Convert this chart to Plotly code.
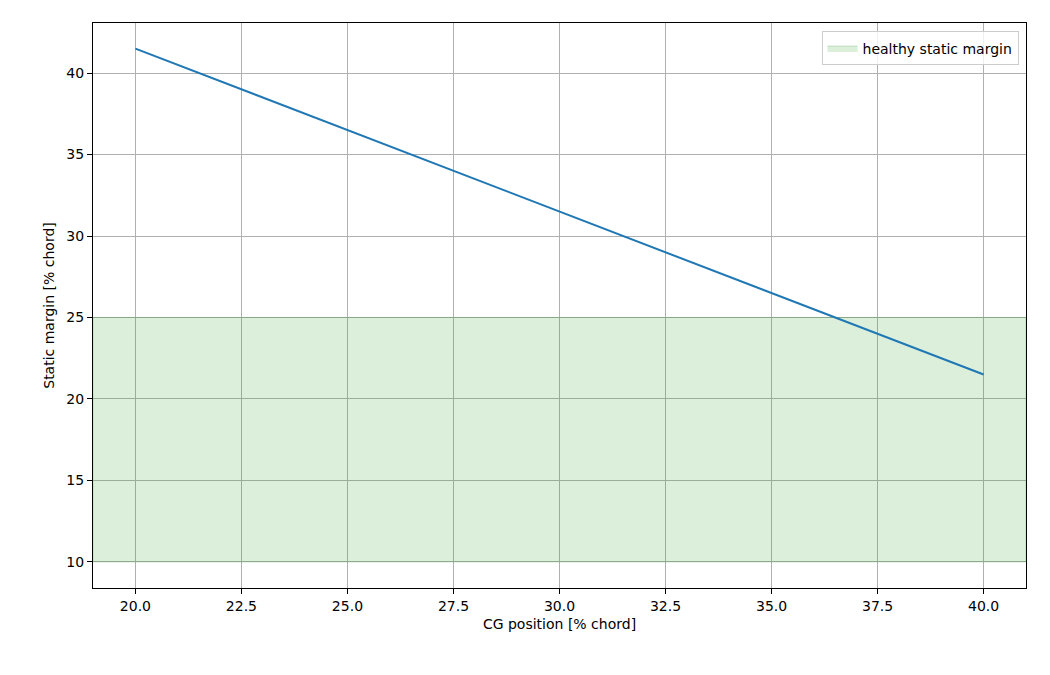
import plotly.graph_objects as go

cg = [20, 40]
static_margin = [41.5, 21.5]
band_low, band_high = 10, 25
x_range = [19, 41]
y_range = [8.4, 43.07]

fig = go.Figure()
fig.add_trace(go.Scatter(
    x=[x_range[0], x_range[1], x_range[1], x_range[0], x_range[0]],
    y=[band_low, band_low, band_high, band_high, band_low],
    fill="toself", fillcolor="rgba(44,160,44,0.17)", line=dict(width=0.8, color="rgba(44,160,44,0.3)"),
    mode="lines", name="healthy static margin", hoverinfo="skip"))
fig.add_trace(go.Scatter(x=cg, y=static_margin, mode="lines",
                         line=dict(color="#1f77b4", width=2), showlegend=False))

axis_common = dict(showline=True, mirror=True, linecolor="black", linewidth=1,
                   gridcolor="#b0b0b0", gridwidth=1, ticks="outside", ticklen=5,
                   tickcolor="black", zeroline=False, tickfont=dict(size=14, color="black"))
fig.update_xaxes(range=x_range, tickvals=[20, 22.5, 25, 27.5, 30, 32.5, 35, 37.5, 40],
                 ticktext=["20.0", "22.5", "25.0", "27.5", "30.0", "32.5", "35.0", "37.5", "40.0"],
                 title=dict(text="CG position [% chord]", font=dict(size=14, color="black"), standoff=6),
                 **axis_common)
fig.update_yaxes(range=y_range, tickvals=[10, 15, 20, 25, 30, 35, 40],
                 title=dict(text="Static margin [% chord]", font=dict(size=14, color="black"), standoff=8),
                 **axis_common)
fig.update_layout(
    width=1050, height=675, plot_bgcolor="white", paper_bgcolor="white",
    margin=dict(l=85, r=32, t=15, b=95),
    font=dict(family="DejaVu Sans", color="black"),
    legend=dict(x=0.992, y=0.985, xanchor="right", yanchor="top", bgcolor="rgba(255,255,255,0.8)",
                bordercolor="#cccccc", borderwidth=1, font=dict(size=14)),
)
fig.write_html("out.html")
